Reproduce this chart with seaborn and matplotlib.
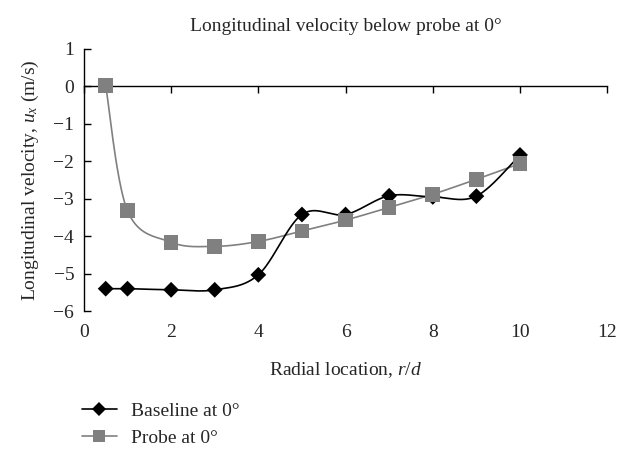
import numpy as np
import pandas as pd
import matplotlib
matplotlib.use("Agg")
import matplotlib.pyplot as plt
import seaborn as sns
from matplotlib.lines import Line2D

# Data
r_d = [0.5, 1, 2, 3, 4, 5, 6, 7, 8, 9, 10]
baseline = [-5.40, -5.40, -5.43, -5.43, -5.03, -3.42, -3.42, -2.92, -2.95, -2.93, -1.83]
probe = [0.02, -3.32, -4.16, -4.27, -4.14, -3.86, -3.57, -3.23, -2.88, -2.48, -2.06]
series_names = ["Baseline at 0°", "Probe at 0°"]
x_ticks = [0, 2, 4, 6, 8, 10, 12]
y_ticks = [-6, -5, -4, -3, -2, -1, 0, 1]

sns.set_theme(style="white")
plt.rcParams["font.family"] = ["Liberation Serif", "DejaVu Serif"]
plt.rcParams["mathtext.fontset"] = "custom"
plt.rcParams["mathtext.rm"] = "Liberation Serif"
plt.rcParams["mathtext.it"] = "Liberation Serif:italic"


def smooth(xs, ys, n=40):
    # Catmull-Rom style Bezier smoothing (like spreadsheet smoothed lines)
    xs = np.asarray(xs, float)
    ys = np.asarray(ys, float)
    P = np.column_stack([xs, ys])
    out = []
    for i in range(len(P) - 1):
        p0 = P[i - 1] if i > 0 else P[i]
        p1 = P[i]
        p2 = P[i + 1]
        p3 = P[i + 2] if i + 2 < len(P) else P[i + 1]
        c1 = p1 + (p2 - p0) / 6.0
        c2 = p2 - (p3 - p1) / 6.0
        t = np.linspace(0, 1, n)[:, None]
        seg = ((1 - t) ** 3) * p1 + 3 * ((1 - t) ** 2) * t * c1 + 3 * (1 - t) * t ** 2 * c2 + t ** 3 * p2
        out.append(seg if i == 0 else seg[1:])
    seg = np.vstack(out)
    return seg[:, 0], seg[:, 1]


FS = 14
fig = plt.figure(figsize=(6.26, 4.49), dpi=100)
ax = fig.add_axes([0.134, 0.307, 0.836, 0.584])

bx, by = smooth(r_d, baseline)
px, py = smooth(r_d, probe)
df_curve = pd.concat([
    pd.DataFrame({"x": px, "y": py, "s": series_names[1]}),
    pd.DataFrame({"x": bx, "y": by, "s": series_names[0]}),
])
palette = {series_names[0]: "black", series_names[1]: "#808080"}
for name in [series_names[1], series_names[0]]:
    d = df_curve[df_curve["s"] == name]
    sns.lineplot(data=d, x="x", y="y", sort=False, estimator=None, color=palette[name],
                 linewidth=1.2, ax=ax, legend=False)

df_pts = pd.DataFrame({"x": r_d, "Baseline": baseline, "Probe": probe})
sns.scatterplot(data=df_pts, x="x", y="Baseline", marker="D", color="black", s=65,
                edgecolor="none", ax=ax, legend=False, zorder=3)
sns.scatterplot(data=df_pts, x="x", y="Probe", marker="s", color="#808080", s=110,
                edgecolor="none", ax=ax, legend=False, zorder=4)

ax.set_xlim(0, 12)
ax.set_ylim(-6, 1)
ax.set_yticks(y_ticks)
ax.set_yticklabels([str(v).replace("-", "\u2212") for v in y_ticks])
ax.set_xticks(x_ticks)
ax.set_xticklabels([])
ax.spines["top"].set_visible(False)
ax.spines["right"].set_visible(False)
ax.spines["bottom"].set_position(("data", 0))
for sp in ["left", "bottom"]:
    ax.spines[sp].set_color("black")
    ax.spines[sp].set_linewidth(1.0)
ax.tick_params(axis="x", direction="out", length=5, width=1.0, color="black", bottom=True)
ax.tick_params(axis="y", direction="in", length=5, width=1.0, color="black", left=True,
               labelsize=FS, pad=7)
ax.set_xlabel("")
ax.set_ylabel("Longitudinal velocity, $u_x$ (m/s)", fontsize=FS, labelpad=9)

sec = ax.secondary_xaxis(0.0)
sec.set_xticks(x_ticks)
sec.set_xticklabels([str(v) for v in x_ticks])
sec.tick_params(axis="x", length=0, labelsize=FS, pad=9)
sec.spines["bottom"].set_visible(False)
sec.set_xlabel("Radial location, $r/d$", fontsize=FS, labelpad=14)

ax.set_title("Longitudinal velocity below probe at 0°", fontsize=FS, pad=13)

handles = [
    Line2D([0], [0], color="black", lw=1.2, marker="D", markersize=7, markeredgewidth=0),
    Line2D([0], [0], color="#808080", lw=1.2, marker="s", markersize=9, markeredgewidth=0),
]
fig.legend(handles, series_names, loc="upper left", bbox_to_anchor=(0.118, 0.122),
           frameon=False, fontsize=FS, handlelength=1.8, handletextpad=0.75, labelspacing=0.5,
           borderaxespad=0)

fig.savefig("out.png", dpi=100)
